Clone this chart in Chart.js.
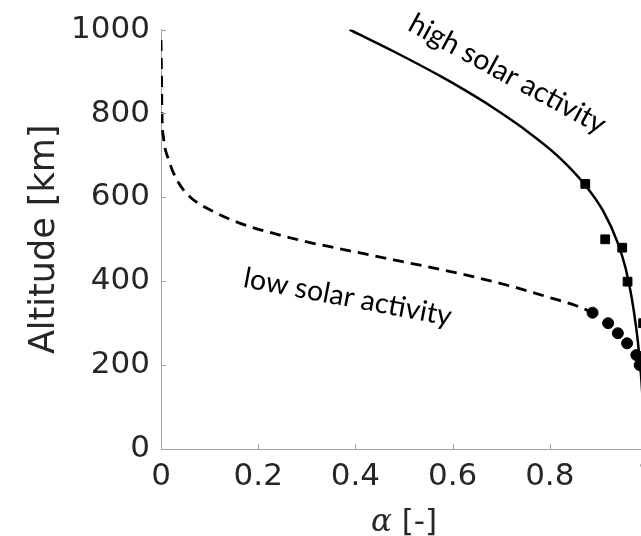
<!DOCTYPE html>
<html>
<head>
<meta charset="utf-8">
<script src="https://cdn.jsdelivr.net/npm/chart.js@4/dist/chart.umd.min.js"></script>
<style>
  html, body { margin: 0; padding: 0; background: #fff; overflow: hidden; width: 641px; height: 536px; }
  canvas { display: block; }
</style>
</head>
<body>
<canvas id="chart" width="680" height="536"></canvas>
<script>
// Accommodation coefficient alpha versus altitude

// High solar activity: model curve
const highCurveAlpha    = [0.388, 0.482, 0.575, 0.626, 0.678, 0.746, 0.816, 0.873, 0.910, 0.939, 0.956, 0.968, 0.978, 0.984, 0.988, 0.992];
const highCurveAltitude = [1000,  946,   889,   855,   818,   764,   699,   629,   567,   494,   431,   364,   287,   225,   172,   101];

// Low solar activity: model curve
const lowCurveAlpha    = [0.000, 0.001, 0.002, 0.005, 0.016, 0.033, 0.060, 0.108, 0.163, 0.232, 0.300, 0.362, 0.479, 0.547, 0.616, 0.733, 0.800, 0.856, 0.888];
const lowCurveAltitude = [975,   900,   800,   744,   689,   641,   601,   566,   538,   514,   494,   479,   451,   435,   418,   384,   361,   341,   325];

// Measured points
const highPointAlpha    = [0.873, 0.914, 0.949, 0.960, 0.992];
const highPointAltitude = [632,   500,   480,   399,   300];
const lowPointAlpha     = [0.888, 0.920, 0.940, 0.959, 0.978, 0.985];
const lowPointAltitude  = [325,   300,   276,   252,   224,   200];

// Axis ticks
const xTickValues = [0, 0.2, 0.4, 0.6, 0.8, 1];
const xTickLabels = ['0', '0.2', '0.4', '0.6', '0.8', '1'];
const yTickValues = [0, 200, 400, 600, 800, 1000];
const yTickLabels = ['0', '200', '400', '600', '800', '1000'];

const toPoints = (xs, ys) => xs.map((x, i) => ({ x: x, y: ys[i] }));

const AXIS_COLOR = '#a3a3a3';
const TEXT_COLOR = '#262626';

// Curve labels, anchored in data space (left end of the baseline)
const curveLabels = [
  { text: 'high solar activity', x: 0.505, y: 1000, angle: 28.5 },
  { text: 'low solar activity',  x: 0.167, y: 387,  angle: 10.7 }
];

const decorations = {
  id: 'decorations',
  afterDraw(chart) {
    const ctx = chart.ctx;
    const xs = chart.scales.x, ys = chart.scales.y;
    const area = chart.chartArea;
    ctx.save();
    // inward tick marks
    ctx.strokeStyle = AXIS_COLOR;
    ctx.lineWidth = 1;
    ctx.beginPath();
    xTickValues.forEach(v => {
      if (v === 0) return;
      const px = Math.round(xs.getPixelForValue(v)) + 0.5;
      ctx.moveTo(px, area.bottom);
      ctx.lineTo(px, area.bottom - 5);
    });
    yTickValues.forEach(v => {
      if (v === 0) return;
      const py = Math.round(ys.getPixelForValue(v)) + 0.5;
      ctx.moveTo(area.left, py);
      ctx.lineTo(area.left + 5, py);
    });
    ctx.stroke();

    // curve labels
    ctx.fillStyle = '#000';
    ctx.font = '28.5px Lato';
    ctx.textAlign = 'left';
    ctx.textBaseline = 'alphabetic';
    curveLabels.forEach(l => {
      ctx.save();
      ctx.translate(xs.getPixelForValue(l.x), ys.getPixelForValue(l.y));
      ctx.rotate(l.angle * Math.PI / 180);
      ctx.fillText(l.text, 0, 0);
      ctx.restore();
    });

    // x-axis title: italic alpha followed by the unit
    const cx = (area.left + area.right) / 2;
    const baseY = 531;
    ctx.fillStyle = TEXT_COLOR;
    ctx.font = 'italic 31px "DejaVu Serif"';
    const aW = ctx.measureText('\u03b1').width;
    ctx.font = '31px "DejaVu Sans"';
    const uW = ctx.measureText(' [-]').width;
    const startX = cx - (aW + uW) / 2;
    ctx.font = 'italic 31px "DejaVu Serif"';
    ctx.fillText('\u03b1', startX, baseY);
    ctx.font = '31px "DejaVu Sans"';
    ctx.fillText(' [-]', startX + aW, baseY);
    ctx.restore();
  }
};

new Chart(document.getElementById('chart'), {
  type: 'scatter',
  data: {
    datasets: [
      {
        label: 'high solar activity',
        data: toPoints(highCurveAlpha, highCurveAltitude),
        showLine: true,
        borderColor: '#000',
        borderWidth: 2.5,
        pointRadius: 0,
        cubicInterpolationMode: 'monotone'
      },
      {
        label: 'low solar activity',
        data: toPoints(lowCurveAlpha, lowCurveAltitude),
        showLine: true,
        borderColor: '#000',
        borderWidth: 2.8,
        borderDash: [11, 7],
        pointRadius: 0,
        cubicInterpolationMode: 'monotone'
      },
      {
        label: 'high activity data',
        data: toPoints(highPointAlpha, highPointAltitude),
        showLine: false,
        pointStyle: 'rect',
        pointRadius: 6.2,
        backgroundColor: '#000',
        borderColor: '#000',
        borderWidth: 1
      },
      {
        label: 'low activity data',
        data: toPoints(lowPointAlpha, lowPointAltitude),
        showLine: false,
        pointStyle: 'circle',
        pointRadius: 5.5,
        backgroundColor: '#000',
        borderColor: '#000',
        borderWidth: 1
      }
    ]
  },
  options: {
    responsive: false,
    animation: false,
    events: [],
    layout: { padding: { left: 0, top: 29, right: 33, bottom: 0 } },
    plugins: { legend: { display: false }, tooltip: { enabled: false } },
    scales: {
      x: {
        type: 'linear',
        min: 0, max: 1,
        afterFit(scale) { scale.height = 87; },
        afterBuildTicks(scale) { scale.ticks = xTickValues.map(v => ({ value: v })); },
        ticks: {
          padding: 9,
          color: TEXT_COLOR,
          font: { family: 'DejaVu Sans', size: 31 },
          maxRotation: 0,
          callback: (v) => xTickLabels[xTickValues.indexOf(v)]
        },
        grid: { display: true, drawOnChartArea: false, drawTicks: false },
        border: { display: true, color: AXIS_COLOR, width: 1 }
      },
      y: {
        type: 'linear',
        min: 0, max: 1000,
        afterFit(scale) { scale.width = 161; },
        afterBuildTicks(scale) { scale.ticks = yTickValues.map(v => ({ value: v })); },
        ticks: {
          padding: 11,
          color: TEXT_COLOR,
          font: { family: 'DejaVu Sans', size: 31 },
          callback: (v) => yTickLabels[yTickValues.indexOf(v)]
        },
        grid: { display: true, drawOnChartArea: false, drawTicks: false },
        border: { display: true, color: AXIS_COLOR, width: 1 },
        title: {
          display: true,
          text: 'Altitude [km]',
          color: TEXT_COLOR,
          font: { family: 'DejaVu Sans', size: 35 },
          padding: { top: 24, bottom: 0 }
        }
      }
    }
  },
  plugins: [decorations]
});
</script>
</body>
</html>
